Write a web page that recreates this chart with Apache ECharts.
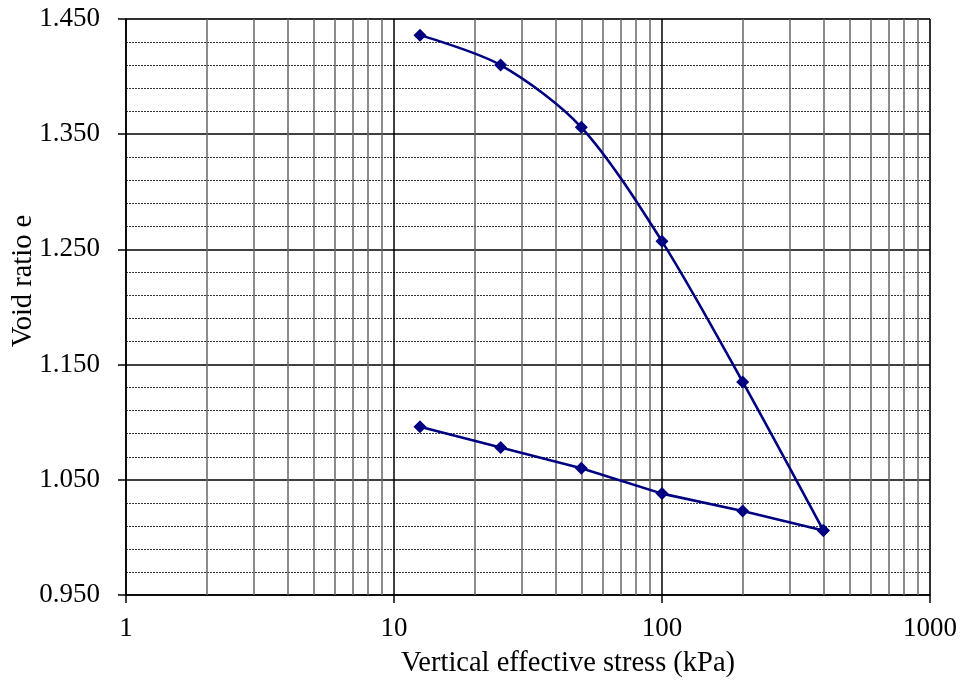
<!DOCTYPE html>
<html>
<head>
<meta charset="utf-8">
<script src="https://cdn.jsdelivr.net/npm/echarts@6/dist/echarts.min.js"></script>
<style>
  html, body { margin: 0; padding: 0; background: #fff; }
  #chart { width: 963px; height: 681px; }
</style>
</head>
<body>
<div id="chart"></div>
<script>
// Oedometer test: void ratio against vertical effective stress (log scale)
const loadingStress = [12.5, 25, 50, 100, 200, 400];
const loadingVoidRatio = [1.436, 1.410, 1.356, 1.257, 1.135, 1.006];
const unloadingStress = [400, 200, 100, 50, 25, 12.5];
const unloadingVoidRatio = [1.006, 1.023, 1.038, 1.060, 1.078, 1.096];

// Intermediate log-cycle gridlines (2..9 in each decade)
const minorStressLines = [2, 3, 4, 5, 6, 7, 8, 9, 20, 30, 40, 50, 60, 70, 80, 90, 200, 300, 400, 500, 600, 700, 800, 900];

const xTitle = 'Vertical effective stress (kPa)';
const yTitle = 'Void ratio e';

const FONT = '"Liberation Serif", "Times New Roman", serif';
const NAVY = '#000080';

const chart = echarts.init(document.getElementById('chart'), null, { renderer: 'canvas' });

function pairs(xs, ys) { return xs.map((x, i) => [x, ys[i]]); }

chart.setOption({
  animation: false,
  backgroundColor: '#ffffff',
  grid: { left: 126, right: 33, top: 19, bottom: 86, show: true, borderColor: '#808080', borderWidth: 1, backgroundColor: 'transparent' },
  xAxis: {
    type: 'log',
    logBase: 10,
    min: 1,
    max: 1000,
    axisLine: { show: true, onZero: false, lineStyle: { color: '#000', width: 1.5 } },
    axisTick: { show: true, inside: false, length: 8, lineStyle: { color: '#000', width: 1.5 } },
    axisLabel: {
      color: '#000', fontFamily: FONT, fontSize: 27, margin: 20,
      formatter: v => String(Math.round(v))
    },
    splitLine: { show: true, lineStyle: { color: '#000', width: 1.5 } },
    minorTick: { show: false },
    minorSplitLine: { show: false }
  },
  yAxis: {
    type: 'value',
    min: 0.95,
    max: 1.45,
    interval: 0.1,
    axisLine: { show: true, lineStyle: { color: '#000', width: 1.5 } },
    axisTick: { show: true, inside: false, length: 8, lineStyle: { color: '#000', width: 1.5 } },
    axisLabel: {
      color: '#000', fontFamily: FONT, fontSize: 27, margin: 26,
      formatter: v => v.toFixed(3)
    },
    splitLine: { show: true, lineStyle: { color: '#000', width: 1.5 } },
    minorTick: { show: false, splitNumber: 5 },
    minorSplitLine: { show: true, lineStyle: { color: '#333', width: 1, type: [2, 1] } }
  },
  graphic: [
    {
      type: 'text',
      x: 568, y: 664,
      style: { text: xTitle, fill: '#000', font: '28.5px ' + FONT, textAlign: 'center', textVerticalAlign: 'middle' }
    },
    {
      type: 'text',
      x: 24, y: 281,
      rotation: Math.PI / 2,
      style: { text: yTitle, fill: '#000', font: '28.5px ' + FONT, textAlign: 'center', textVerticalAlign: 'middle' }
    }
  ],
  series: [
    {
      name: 'gridlines',
      type: 'line',
      data: [],
      silent: true,
      z: 1,
      markLine: {
        silent: true,
        symbol: ['none', 'none'],
        label: { show: false },
        lineStyle: { color: '#666', width: 1.5, type: 'solid' },
        data: minorStressLines.map(v => ({ xAxis: v }))
      }
    },
    {
      name: 'Loading',
      type: 'line',
      data: pairs(loadingStress, loadingVoidRatio),
      smooth: 0.3,
      symbol: 'diamond',
      symbolSize: 13,
      z: 5,
      lineStyle: { color: NAVY, width: 2.6 },
      itemStyle: { color: NAVY }
    },
    {
      name: 'Unloading',
      type: 'line',
      data: pairs(unloadingStress, unloadingVoidRatio),
      smooth: false,
      symbol: 'diamond',
      symbolSize: 13,
      z: 5,
      lineStyle: { color: NAVY, width: 2.6 },
      itemStyle: { color: NAVY }
    }
  ]
});
</script>
</body>
</html>
